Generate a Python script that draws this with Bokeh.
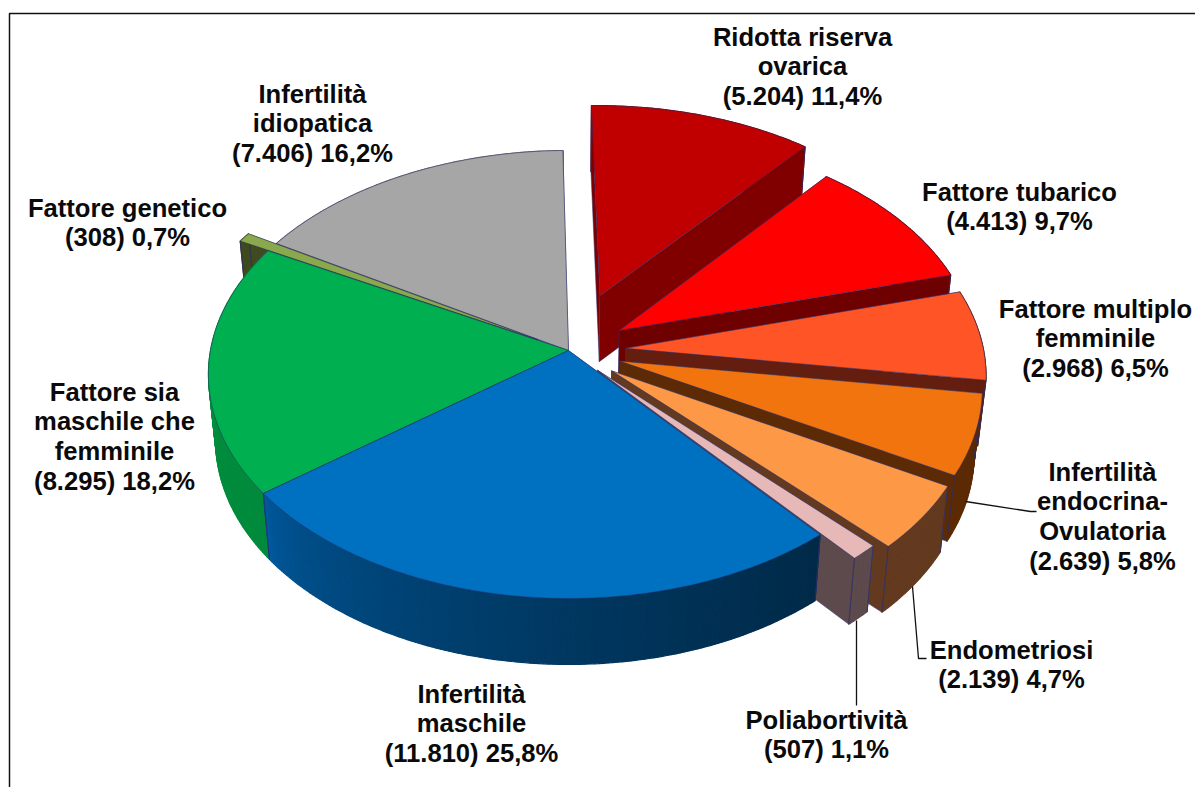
import numpy as np
from bokeh.plotting import figure
from bokeh.models import Range1d, ColumnDataSource
from bokeh.core.properties import value
from bokeh.embed import file_html
from bokeh.resources import INLINE

# ---------- data ----------
categories = ["Ridotta riserva ovarica", "Fattore tubarico", "Fattore multiplo femminile",
              "Infertilità endocrina-Ovulatoria", "Endometriosi", "Poliabortività",
              "Infertilità maschile", "Fattore sia maschile che femminile",
              "Fattore genetico", "Infertilità idiopatica"]
counts = [5204, 4413, 2968, 2639, 2139, 507, 11810, 8295, 308, 7406]
count_labels = ["5.204", "4.413", "2.968", "2.639", "2.139", "507", "11.810", "8.295", "308", "7.406"]
percent_labels = ["11,4%", "9,7%", "6,5%", "5,8%", "4,7%", "1,1%", "25,8%", "18,2%", "0,7%", "16,2%"]

explode = [0.27, 0.17, 0.16, 0.15, 0.15, 0.12, 0, 0, 0.10, 0]
top_colors = ["#C00000", "#FF0000", "#FF5526", "#F2740F", "#FC9846", "#E6B9B8",
              "#0070C0", "#00B050", "#8AA84C", "#A6A6A6"]
wall_colors_a = ["#800000", "#6E0000", "#641E0F", "#5C2B05", "#633A1F", "#5C4A4C",
                 "#005A9E", "#009640", "#3F4A1F", "#707070"]
wall_colors_b = ["#800000", "#6E0000", "#641E0F", "#5C2B05", "#633A1F", "#5C4A4C",
                 "#002A48", "#008A3C", "#3F4A1F", "#707070"]
draw_order = [0, 1, 2, 3, 4, 5, 9, 8, 7, 6]

label_lines = [
    ["Ridotta riserva", "ovarica"], ["Fattore tubarico"], ["Fattore multiplo", "femminile"],
    ["Infertilità", "endocrina-", "Ovulatoria"], ["Endometriosi"], ["Poliabortività"],
    ["Infertilità", "maschile"], ["Fattore sia", "maschile che", "femminile"],
    ["Fattore genetico"], ["Infertilità", "idiopatica"],
]
label_anchor = [(802, 36), (1019, 191), (1095, 308), (1102, 471), (1011, 649),
                (826, 719), (471, 693), (114, 391), (127, 207), (312, 93)]
LINE_STEP = 29.7

# ---------- projection ----------
cx, cy = 568.0, 350.0
f, g, k = 358.0, 221.4, 0.107
depth, shrink = 66.0, 0.98
rotation = -1.0
EDGE = "#2B2F6B"


def proj(X, Y):
    w = 1 + k * Y
    return cx + f * X / w, cy - g * Y / w


def drop(pt):
    return cx + (pt[0] - cx) * shrink, pt[1] + depth


def lerp_color(a, b, t):
    ca = [int(a[i:i + 2], 16) for i in (1, 3, 5)]
    cb = [int(b[i:i + 2], 16) for i in (1, 3, 5)]
    return "#%02x%02x%02x" % tuple(round(x + (y - x) * t) for x, y in zip(ca, cb))


xs, ys, fills, lines, widths = [], [], [], [], []


def add(pts, fill, line, width):
    xs.append([q[0] for q in pts])
    ys.append([q[1] for q in pts])
    fills.append(fill)
    lines.append(line)
    widths.append(width)


cum = np.concatenate([[0], np.cumsum(counts)]) / np.sum(counts) * 360 + rotation
for i in draw_order:
    a0, a1 = np.radians(cum[i]), np.radians(cum[i + 1])
    mid = (a0 + a1) / 2
    ox, oy = explode[i] * np.sin(mid), explode[i] * np.cos(mid)
    th = np.linspace(a0, a1, max(4, int(np.degrees(a1 - a0) * 1.5)))
    arc = [proj(ox + np.sin(t), oy + np.cos(t)) for t in th]
    apex = proj(ox, oy)
    # start cut, end cut
    add([apex, arc[0], drop(arc[0]), drop(apex)], wall_colors_a[i], EDGE, 0.5)
    add([apex, arc[-1], drop(arc[-1]), drop(apex)], wall_colors_a[i], EDGE, 0.5)
    # outer wall, as narrow strips so it can carry the shading
    for j in range(len(arc) - 1):
        c = lerp_color(wall_colors_a[i], wall_colors_b[i], (1 - j / (len(arc) - 2)) ** 0.6)
        add([arc[j], arc[j + 1], drop(arc[j + 1]), drop(arc[j])], c, c, 1.2)
    # edges of the outer wall
    add([arc[0], drop(arc[0])], None, EDGE, 0.5)
    add([arc[-1], drop(arc[-1])], None, EDGE, 0.5)
    # top
    add([apex] + arc, top_colors[i], EDGE, 0.5)

p = figure(width=1195, height=787, output_backend="svg", toolbar_location=None,
           x_range=Range1d(0, 1195), y_range=Range1d(787, 0),
           min_border=0, outline_line_color=None, background_fill_color="white")
p.axis.visible = False
p.grid.visible = False

# frame
p.line([9, 9, 1195], [787, 13, 13], line_color="#111111", line_width=1.5)

src = ColumnDataSource(dict(xs=xs, ys=ys, fill=fills, line=lines, w=widths))
p.patches("xs", "ys", source=src, fill_color="fill", line_color="line", line_width="w")

# leader lines
for lx, ly in [([965, 1030, 1036], [501, 511, 511]),
               ([912, 918, 926], [586, 658, 658]),
               ([856, 856], [620, 705])]:
    p.line(lx, ly, line_color="#111111", line_width=1.3)

# labels
tx, ty, tt = [], [], []
for i, rows in enumerate(label_lines):
    ax, ay = label_anchor[i]
    rows = rows + [f"({count_labels[i]}) {percent_labels[i]}"]
    for n, r in enumerate(rows):
        tx.append(ax)
        ty.append(ay + n * LINE_STEP)
        tt.append(r)
p.text(tx, ty, text=tt, text_font=value("Liberation Sans"), text_font_style="bold",
       text_font_size="25.6px", text_color="#0a0a0a", text_align="center", text_baseline="middle")

open("out.html", "w").write(file_html(p, INLINE))
